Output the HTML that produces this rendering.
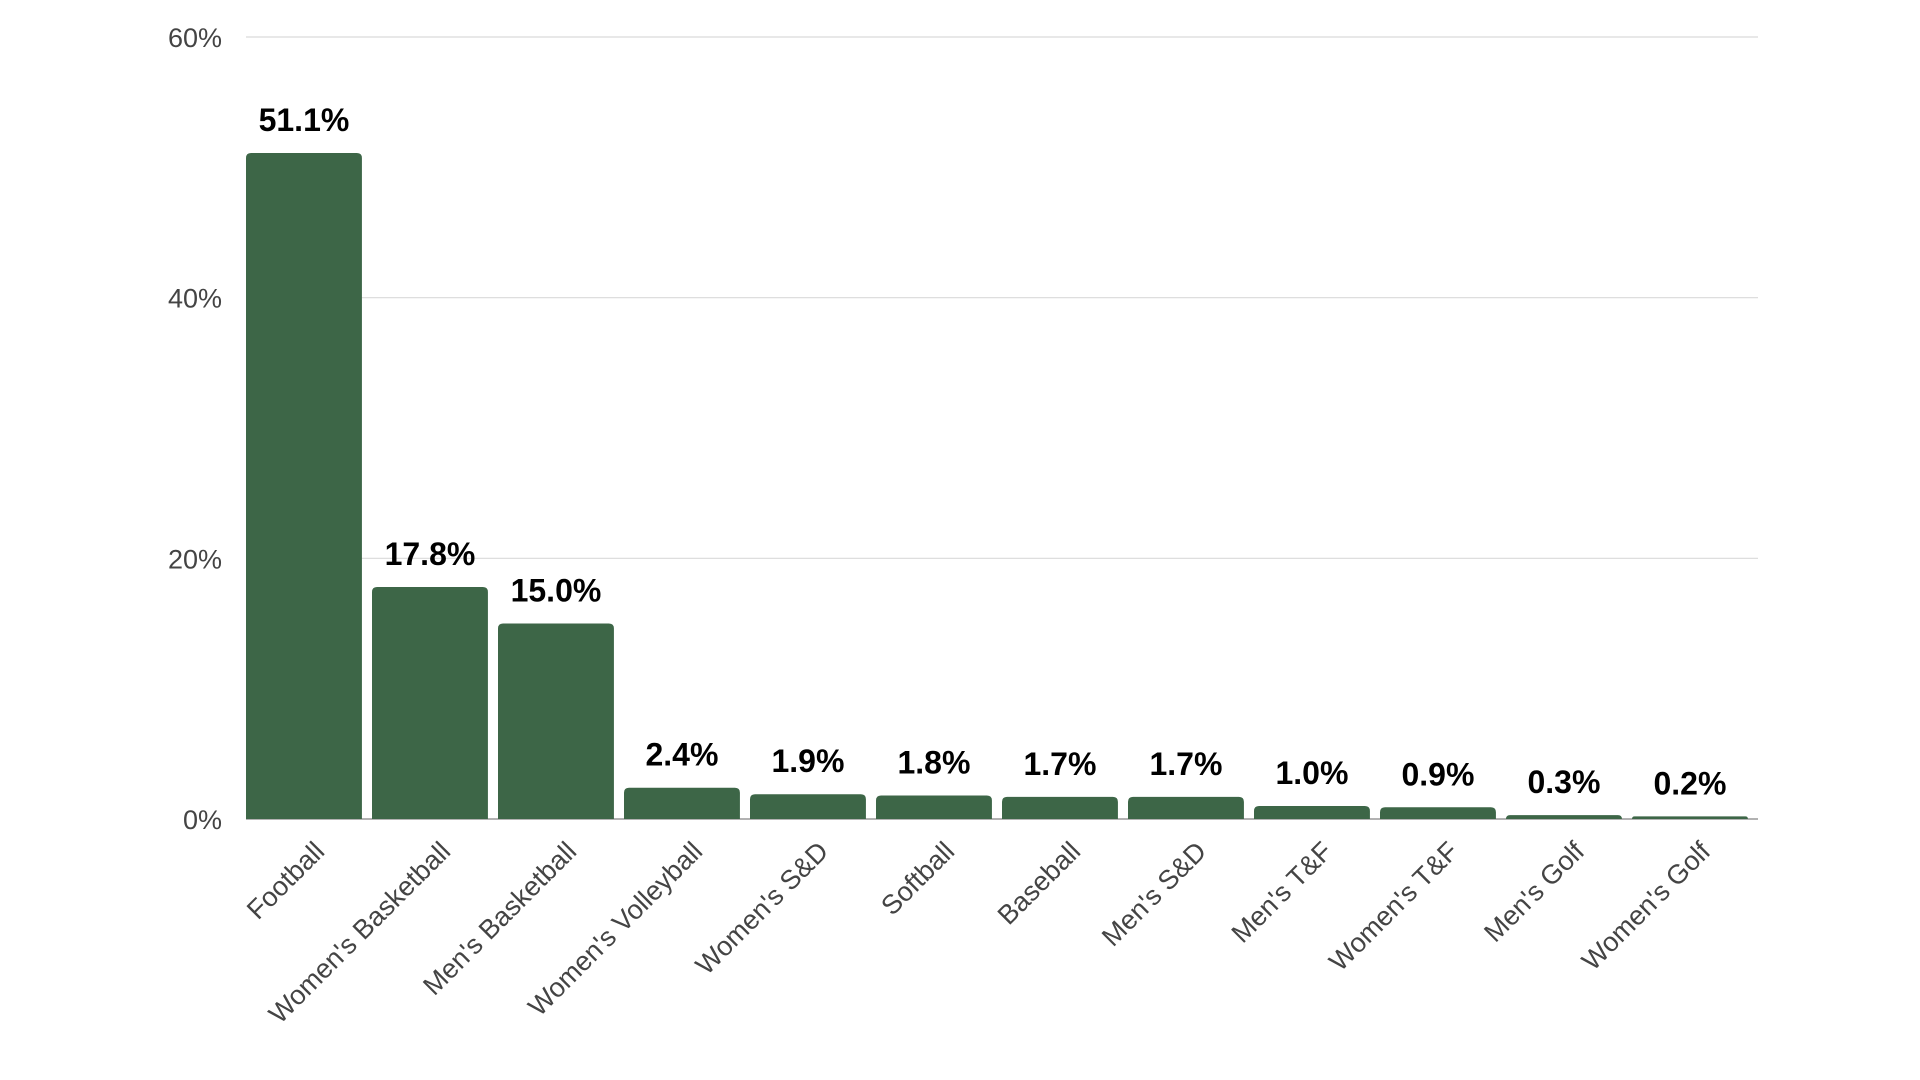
<!DOCTYPE html>
<html><head><meta charset="utf-8"><style>
html,body{margin:0;padding:0;background:#fff;}
svg{display:block;font-family:"Liberation Sans",sans-serif;}
</style></head><body>
<svg id="chart" width="1920" height="1080" viewBox="0 0 1920 1080" xmlns="http://www.w3.org/2000/svg"></svg>
<script>
const categories = ["Football","Women's Basketball","Men's Basketball","Women's Volleyball","Women's S&D","Softball","Baseball","Men's S&D","Men's T&F","Women's T&F","Men's Golf","Women's Golf"];
const values = [51.1,17.8,15.0,2.4,1.9,1.8,1.7,1.7,1.0,0.9,0.3,0.2];
const valueLabels = ["51.1%","17.8%","15.0%","2.4%","1.9%","1.8%","1.7%","1.7%","1.0%","0.9%","0.3%","0.2%"];
const yTicks = [0,20,40,60];
const yTickLabels = ["0%","20%","40%","60%"];

(function(){
const svg = document.getElementById('chart');
const NS = 'http://www.w3.org/2000/svg';
const plotLeft = 246, plotRight = 1758, plotTop = 37, plotBottom = 819, yMax = 60;
const pitch = (plotRight - plotLeft) / categories.length;
const barW = pitch * 0.92;
function yPos(v){ return plotBottom - (v / yMax) * (plotBottom - plotTop); }
function xPos(i){ return plotLeft + i * pitch; }
function mk(tag, attrs){ const e = document.createElementNS(NS, tag); for (const k in attrs) e.setAttribute(k, attrs[k]); svg.appendChild(e); return e; }

yTicks.forEach((t, i) => {
  const g = mk('line', {x1:plotLeft, x2:plotRight, y1:yPos(t), y2:yPos(t), stroke: t===0 ? '#999' : '#d9d9d9', 'stroke-width': t===0 ? 1.5 : 1.2});
  
  
  const tx = mk('text', {x:222, y:yPos(t)+10, 'text-anchor':'end', 'font-size':27, fill:'#444'});
  tx.textContent = yTickLabels[i];
  
  
});

values.forEach((v, i) => {
  const bx = xPos(i), by = yPos(v), h = plotBottom - by, r = Math.min(5, h);
  const p = mk('path', {d:`M${bx},${plotBottom} L${bx},${by+r} Q${bx},${by} ${bx+r},${by} L${bx+barW-r},${by} Q${bx+barW},${by} ${bx+barW},${by+r} L${bx+barW},${plotBottom} Z`, fill:'#3d6647'});
  
  
  const cx = bx + barW/2;
  const lt = mk('text', {x:cx, y:by-22, 'text-anchor':'middle', 'font-size':32, 'font-weight':'bold', fill:'#000'});
  lt.textContent = valueLabels[i];
  
  
  const ct = mk('text', {x:cx+22, y:853, 'text-anchor':'end', 'font-size':27, fill:'#444', transform:`rotate(-45 ${cx+22} 853)`});
  ct.textContent = categories[i];
  
  
});
})();
</script>
</body></html>
